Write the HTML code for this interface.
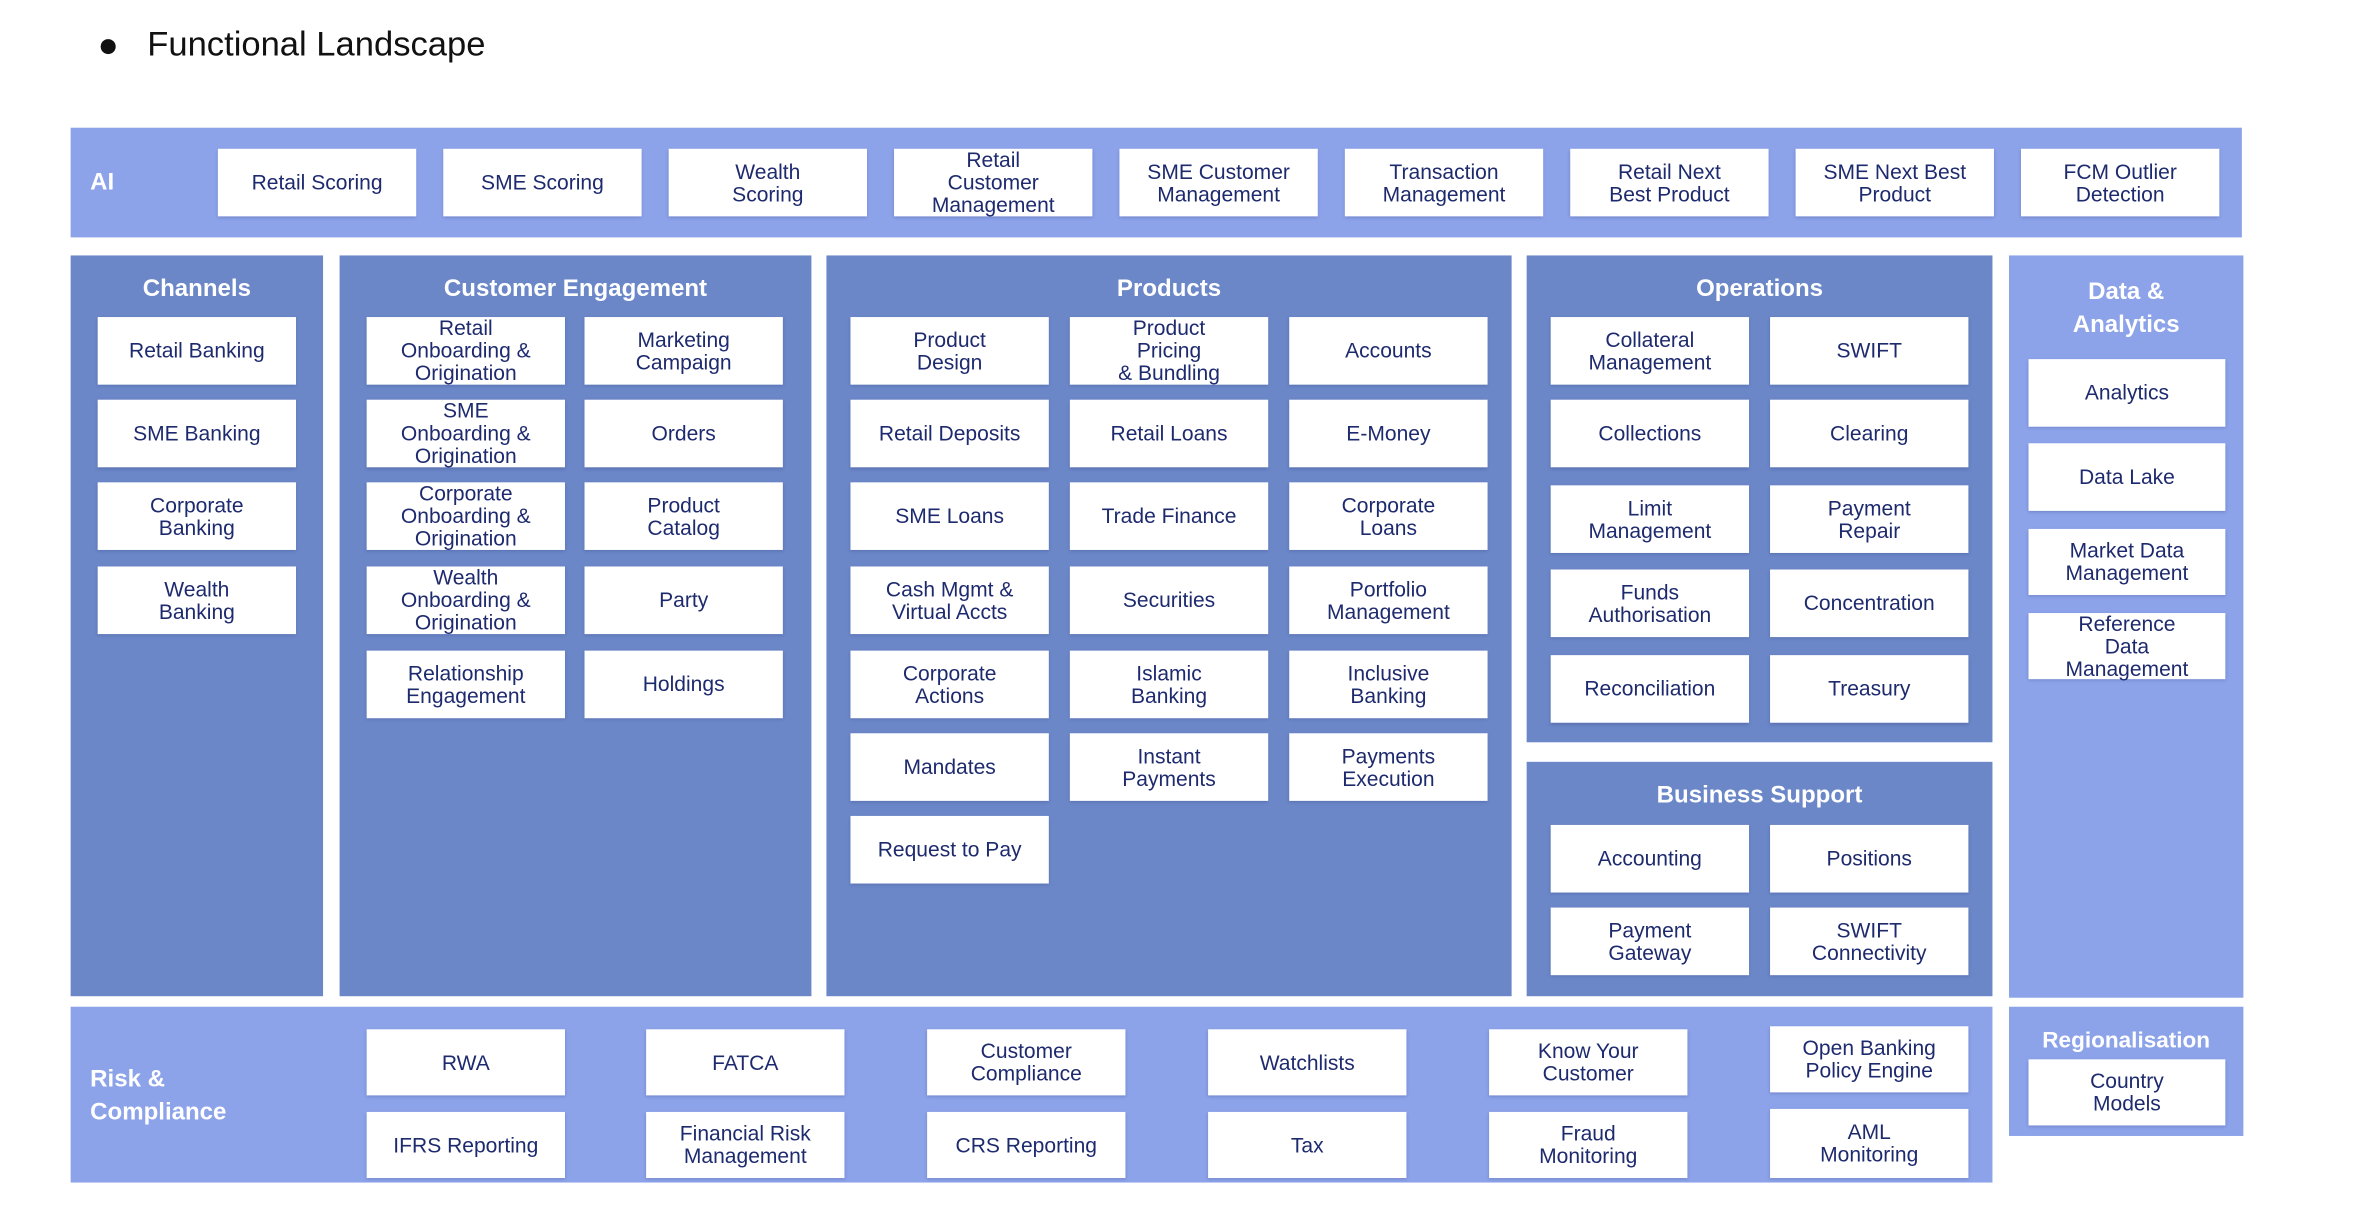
<!DOCTYPE html>
<html><head><meta charset="utf-8"><style>
html,body{margin:0;padding:0;background:#fff;}
body{width:2356px;height:1216px;overflow:hidden;position:relative;}
#w{position:absolute;left:0;top:0;width:1568px;height:809px;transform:scale(1.5026);transform-origin:0 0;font-family:"Liberation Sans Narrow","Liberation Sans",sans-serif;}
.p{position:absolute;}
.d{background:#6b87c8;}
.l{background:#8ca2e9;}
.b{position:absolute;background:#fff;width:132px;height:45px;display:flex;align-items:center;justify-content:center;text-align:center;color:#1e2a6e;font-size:14px;line-height:15px;box-shadow:0 1px 2px rgba(30,40,100,.25);}
.t{position:absolute;color:#fff;font-weight:bold;font-size:16px;text-align:center;font-family:"Liberation Sans Narrow","Liberation Sans",sans-serif;}
</style></head><body><div id="w">
<div class="p" style="left:67px;top:26px;width:10px;height:10px;border-radius:50%;background:#111"></div>
<div class="p" style="left:98px;top:16px;font-family:'Liberation Sans',sans-serif;font-size:23px;color:#111">Functional Landscape</div>

<div class="p l" style="left:47px;top:85px;width:1445px;height:73px"></div>
<div class="t" style="left:60px;top:113px">AI</div>
<div class="b" style="left:145px;top:99px">Retail Scoring</div>
<div class="b" style="left:295px;top:99px">SME Scoring</div>
<div class="b" style="left:445px;top:99px">Wealth<br>Scoring</div>
<div class="b" style="left:595px;top:99px">Retail<br>Customer<br>Management</div>
<div class="b" style="left:745px;top:99px">SME Customer<br>Management</div>
<div class="b" style="left:895px;top:99px">Transaction<br>Management</div>
<div class="b" style="left:1045px;top:99px">Retail Next<br>Best Product</div>
<div class="b" style="left:1195px;top:99px">SME Next Best<br>Product</div>
<div class="b" style="left:1345px;top:99px">FCM Outlier<br>Detection</div>

<div class="p d" style="left:47px;top:170px;width:168px;height:493px"></div>
<div class="t" style="left:47px;top:184px;width:168px">Channels</div>
<div class="b" style="left:65px;top:211px">Retail Banking</div>
<div class="b" style="left:65px;top:266px">SME Banking</div>
<div class="b" style="left:65px;top:321px">Corporate<br>Banking</div>
<div class="b" style="left:65px;top:377px">Wealth<br>Banking</div>

<div class="p d" style="left:226px;top:170px;width:314px;height:493px"></div>
<div class="t" style="left:226px;top:184px;width:314px">Customer Engagement</div>
<div class="b" style="left:244px;top:211px">Retail<br>Onboarding &amp;<br>Origination</div>
<div class="b" style="left:389px;top:211px">Marketing<br>Campaign</div>
<div class="b" style="left:244px;top:266px">SME<br>Onboarding &amp;<br>Origination</div>
<div class="b" style="left:389px;top:266px">Orders</div>
<div class="b" style="left:244px;top:321px">Corporate<br>Onboarding &amp;<br>Origination</div>
<div class="b" style="left:389px;top:321px">Product<br>Catalog</div>
<div class="b" style="left:244px;top:377px">Wealth<br>Onboarding &amp;<br>Origination</div>
<div class="b" style="left:389px;top:377px">Party</div>
<div class="b" style="left:244px;top:433px">Relationship<br>Engagement</div>
<div class="b" style="left:389px;top:433px">Holdings</div>

<div class="p d" style="left:550px;top:170px;width:456px;height:493px"></div>
<div class="t" style="left:550px;top:184px;width:456px">Products</div>
<div class="b" style="left:566px;top:211px">Product<br>Design</div>
<div class="b" style="left:712px;top:211px">Product<br>Pricing<br>&amp; Bundling</div>
<div class="b" style="left:858px;top:211px">Accounts</div>
<div class="b" style="left:566px;top:266px">Retail Deposits</div>
<div class="b" style="left:712px;top:266px">Retail Loans</div>
<div class="b" style="left:858px;top:266px">E-Money</div>
<div class="b" style="left:566px;top:321px">SME Loans</div>
<div class="b" style="left:712px;top:321px">Trade Finance</div>
<div class="b" style="left:858px;top:321px">Corporate<br>Loans</div>
<div class="b" style="left:566px;top:377px">Cash Mgmt &amp;<br>Virtual Accts</div>
<div class="b" style="left:712px;top:377px">Securities</div>
<div class="b" style="left:858px;top:377px">Portfolio<br>Management</div>
<div class="b" style="left:566px;top:433px">Corporate<br>Actions</div>
<div class="b" style="left:712px;top:433px">Islamic<br>Banking</div>
<div class="b" style="left:858px;top:433px">Inclusive<br>Banking</div>
<div class="b" style="left:566px;top:488px">Mandates</div>
<div class="b" style="left:712px;top:488px">Instant<br>Payments</div>
<div class="b" style="left:858px;top:488px">Payments<br>Execution</div>
<div class="b" style="left:566px;top:543px">Request to Pay</div>

<div class="p d" style="left:1016px;top:170px;width:310px;height:324px"></div>
<div class="t" style="left:1016px;top:184px;width:310px">Operations</div>
<div class="b" style="left:1032px;top:211px">Collateral<br>Management</div>
<div class="b" style="left:1178px;top:211px">SWIFT</div>
<div class="b" style="left:1032px;top:266px">Collections</div>
<div class="b" style="left:1178px;top:266px">Clearing</div>
<div class="b" style="left:1032px;top:323px">Limit<br>Management</div>
<div class="b" style="left:1178px;top:323px">Payment<br>Repair</div>
<div class="b" style="left:1032px;top:379px">Funds<br>Authorisation</div>
<div class="b" style="left:1178px;top:379px">Concentration</div>
<div class="b" style="left:1032px;top:436px">Reconciliation</div>
<div class="b" style="left:1178px;top:436px">Treasury</div>

<div class="p d" style="left:1016px;top:507px;width:310px;height:156px"></div>
<div class="t" style="left:1016px;top:521px;width:310px">Business Support</div>
<div class="b" style="left:1032px;top:549px">Accounting</div>
<div class="b" style="left:1178px;top:549px">Positions</div>
<div class="b" style="left:1032px;top:604px">Payment<br>Gateway</div>
<div class="b" style="left:1178px;top:604px">SWIFT<br>Connectivity</div>

<div class="p l" style="left:1337px;top:170px;width:156px;height:494px"></div>
<div class="t" style="left:1337px;top:184px;width:156px;line-height:22px">Data &amp;<br>Analytics</div>
<div class="b" style="left:1350px;top:239px;width:131px">Analytics</div>
<div class="b" style="left:1350px;top:295px;width:131px">Data Lake</div>
<div class="b" style="left:1350px;top:352px;width:131px;height:44px">Market Data<br>Management</div>
<div class="b" style="left:1350px;top:408px;width:131px;height:44px">Reference<br>Data<br>Management</div>

<div class="p l" style="left:47px;top:670px;width:1279px;height:117px"></div>
<div class="t" style="left:60px;top:708px;text-align:left;line-height:22px">Risk &amp;<br>Compliance</div>
<div class="b" style="left:244px;top:685px;height:44px">RWA</div>
<div class="b" style="left:430px;top:685px;height:44px">FATCA</div>
<div class="b" style="left:617px;top:685px;height:44px">Customer<br>Compliance</div>
<div class="b" style="left:804px;top:685px;height:44px">Watchlists</div>
<div class="b" style="left:991px;top:685px;height:44px">Know Your<br>Customer</div>
<div class="b" style="left:1178px;top:683px;height:44px">Open Banking<br>Policy Engine</div>
<div class="b" style="left:244px;top:740px;height:44px">IFRS Reporting</div>
<div class="b" style="left:430px;top:740px;height:44px">Financial Risk<br>Management</div>
<div class="b" style="left:617px;top:740px;height:44px">CRS Reporting</div>
<div class="b" style="left:804px;top:740px;height:44px">Tax</div>
<div class="b" style="left:991px;top:740px;height:44px">Fraud<br>Monitoring</div>
<div class="b" style="left:1178px;top:738px;height:46px">AML<br>Monitoring</div>

<div class="p l" style="left:1337px;top:670px;width:156px;height:86px"></div>
<div class="t" style="left:1337px;top:684px;width:156px;font-size:15px">Regionalisation</div>
<div class="b" style="left:1350px;top:705px;width:131px;height:44px">Country<br>Models</div>
</div></body></html>
